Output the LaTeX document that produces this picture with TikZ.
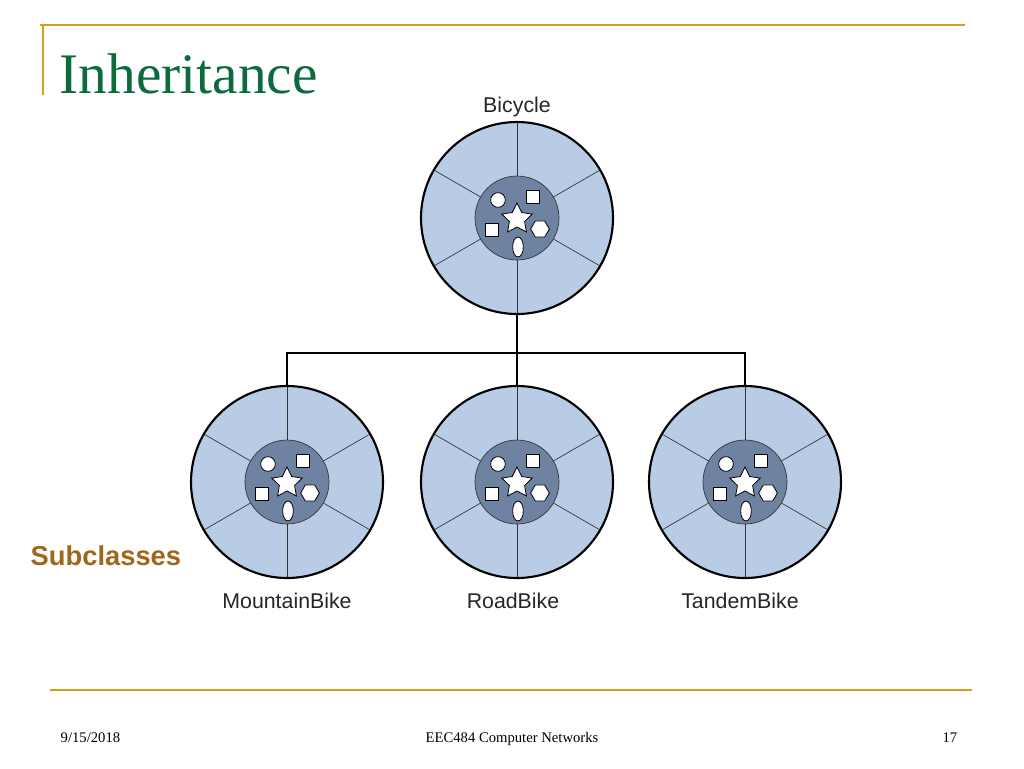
\documentclass[tikz,border=0pt]{standalone}
\usepackage{fontspec}
\setmainfont{Liberation Serif}
\newfontfamily\arial{Liberation Sans}
\usetikzlibrary{shapes.geometric}
\definecolor{gold}{HTML}{D4A017}
\definecolor{outerc}{HTML}{B9CCE5}
\definecolor{innerc}{HTML}{6E82A2}
\definecolor{titlec}{HTML}{0B6B3A}
\definecolor{subc}{HTML}{A0661A}
\tikzset{lbl/.style={font=\arial\fontsize{16}{16}\selectfont,text=black!85}}
\newcommand{\bike}[2]{%
\begin{scope}[shift={(#1)}]
\fill[outerc] (0,0) circle (96);
\foreach \a in {30,90,150,210,270,330}\draw[black!80,line width=0.5pt] (0,0) -- (\a:96);
\fill[innerc] (0,0) circle (42);
\draw[black!80,line width=0.5pt] (0,0) circle (42);
\draw[black,line width=1.6pt] (0,0) circle (96);
\tikzset{w/.style={fill=white,draw=black,line width=0.6pt,inner sep=0pt}}
\node[w,circle,minimum size=11pt] at (-19,-18) {};
\node[w,rectangle,minimum size=10pt] at (16,-21) {};
\node[w,rectangle,minimum size=10pt] at (-25,12) {};
\node[w,regular polygon,regular polygon sides=6,minimum size=14pt] at (23,11) {};
\node[w,ellipse,minimum width=8pt,minimum height=15pt] at (1,29) {};
\node[w,star,star points=5,star point ratio=2.0,minimum size=24pt] at (0,1) {};
\node (#2) at (0,0) {};
\end{scope}}
\begin{document}
\begin{tikzpicture}[x=0.75pt,y=-0.75pt]
\useasboundingbox (0,0) rectangle (1024,768);
\draw[gold,line width=1.5pt] (40,25) -- (965,25);
\draw[gold,line width=1.5pt] (43,25) -- (43,95);
\draw[gold,line width=1.5pt] (50,690) -- (972,690);
\node[anchor=west,text=titlec,font=\fontsize{43}{43}\selectfont] (title) at (55,74) {Inheritance};
\draw[black,line width=1.5pt] (517,315) -- (517,353) (287,386) -- (287,353) -- (745,353) -- (745,386) (517,353) -- (517,386);
\bike{517,218}{b}
\bike{287,482}{m}
\bike{517,482}{r}
\bike{745,482}{t}
\node[lbl] (lb) at (517,107) {Bicycle};
\node[lbl] (lm) at (287,601) {MountainBike};
\node[lbl] (lr) at (513,601) {RoadBike};
\node[lbl] (lt) at (740,601) {TandemBike};
\node[anchor=west,text=subc,font=\arial\bfseries\fontsize{20.5}{20.5}\selectfont] (sub) at (26,556) {Subclasses};
\node[font=\fontsize{11}{11}\selectfont,anchor=base west] (d) at (56,742) {9/15/2018};
\node[font=\fontsize{11}{11}\selectfont,anchor=base] (c) at (512,742) {EEC484 Computer Networks};
\node[font=\fontsize{11}{11}\selectfont,anchor=base east] (p) at (962,742) {17};
\end{tikzpicture}
\end{document}
